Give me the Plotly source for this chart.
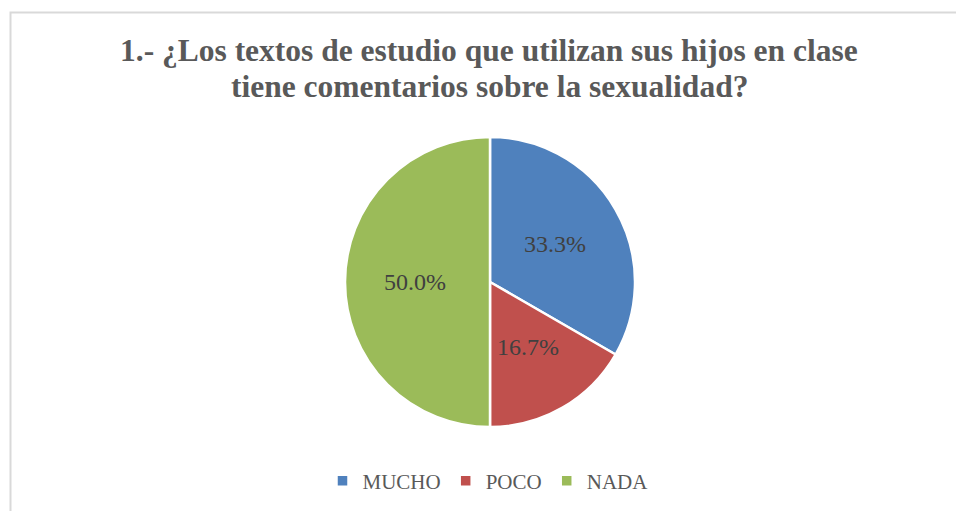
import math
import plotly.graph_objects as go

categories = ["MUCHO", "POCO", "NADA"]
values = [2, 1, 3]
colors = ["#4F81BD", "#C0504D", "#9BBB59"]
title_lines = ["1.- ¿Los textos de estudio que utilizan sus hijos en clase",
               "tiene comentarios sobre la sexualidad?"]

W, H = 956, 511
cx, cy, R = 490, 282, 145

fig = go.Figure(go.Pie(
    labels=categories, values=values, sort=False, direction="clockwise", rotation=0,
    marker=dict(colors=colors, line=dict(color="white", width=2.5)),
    textinfo="none", hoverinfo="label+percent",
    domain=dict(x=[(cx - R) / W, (cx + R) / W], y=[1 - (cy + R) / H, 1 - (cy - R) / H]),
))

total = sum(values)
annotations = []
cum = 0
for v in values:
    mid = (cum + v / 2) / total * 2 * math.pi
    cum += v
    r = 0.52 * R
    px = cx + r * math.sin(mid)
    py = cy - r * math.cos(mid)
    annotations.append(dict(
        x=px / W, y=1 - py / H, xref="paper", yref="paper", showarrow=False,
        text=f"{v / total * 100:.1f}%",
        font=dict(family="Liberation Serif", size=24, color="#404040"),
        xanchor="center", yanchor="middle"))

for i, line in enumerate(title_lines):
    annotations.append(dict(
        x=489 / W, y=1 - (50 + 36 * i) / H, xref="paper", yref="paper", showarrow=False,
        text="<b>" + line + "</b>",
        font=dict(family="Liberation Serif", size=31.5, color="#595959"),
        xanchor="center", yanchor="middle", align="center"))

fig.update_layout(
    width=W, height=H, margin=dict(l=0, r=0, t=0, b=0),
    paper_bgcolor="white", plot_bgcolor="white",
    showlegend=True,
    legend=dict(orientation="h", x=488 / W, xanchor="center", y=1 - 481 / H, yanchor="middle",
                font=dict(family="Liberation Serif", size=21, color="#595959"),
                itemwidth=30, traceorder="normal"),
    annotations=annotations,
    shapes=[dict(type="rect", xref="paper", yref="paper",
                 x0=10.5 / W, x1=1.2, y0=-0.2, y1=1 - 12.5 / H,
                 line=dict(color="#D9D9D9", width=2), fillcolor="rgba(0,0,0,0)", layer="below")],
)

fig.write_html("out.html", config={"displayModeBar": False},
               post_script="document.body.style.margin='0';document.body.style.overflow='hidden';")
